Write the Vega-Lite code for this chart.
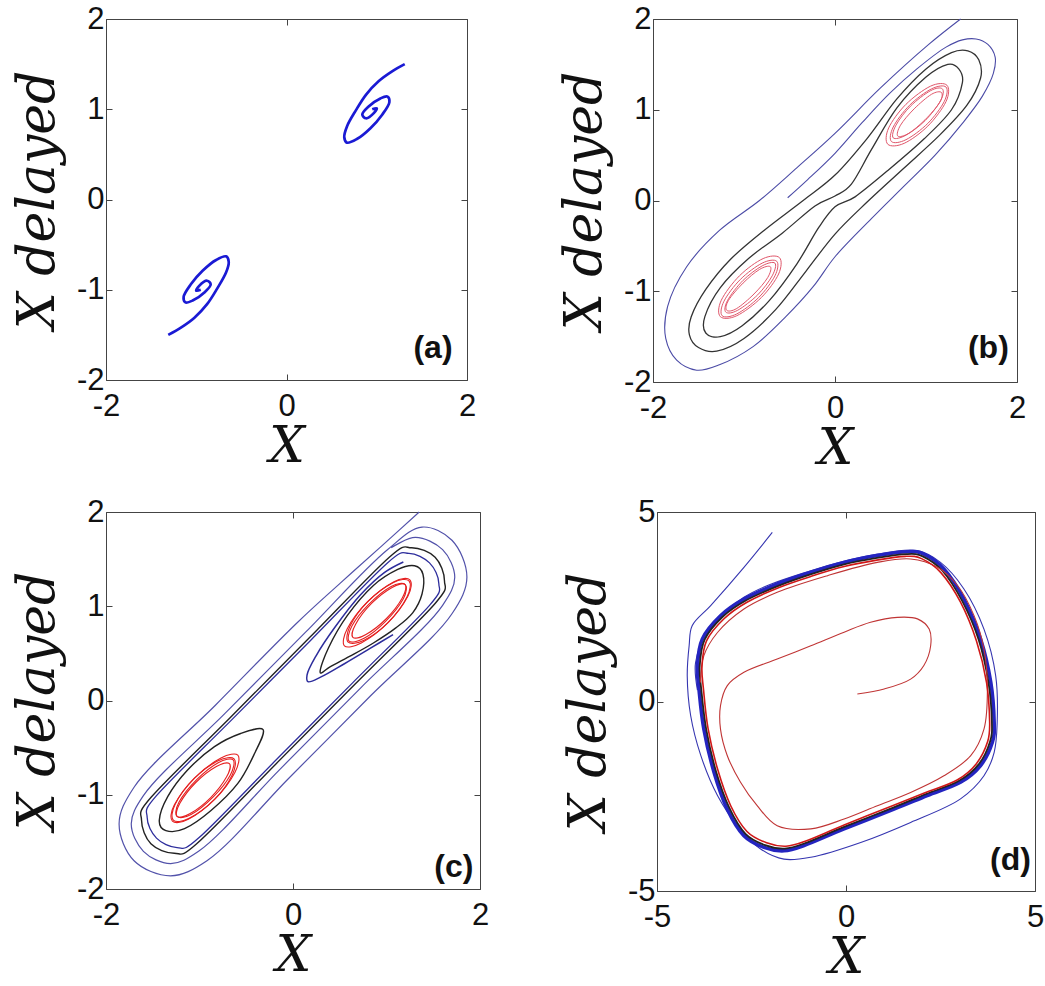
{
"$schema":"https://vega.github.io/schema/vega-lite/v6.json",
"background":"white",
"padding":{"left":10,"top":2,"right":0,"bottom":0},
"config":{
 "view":{"stroke":"#444","strokeWidth":1},
 "axis":{"grid":false,"domain":false,"tickColor":"#444","tickSize":-6,"labelFont":"Liberation Sans","labelFontSize":31,"labelColor":"#111","labelFlush":false,"labelBound":false,"labelOverlap":false,"labelExpr":"'' + datum.value","titleFont":"DejaVu Serif","titleFontStyle":"italic","titleFontWeight":"normal","titleColor":"#111"},
 "axisX":{"titlePadding":0,"labelPadding":17,"titleFontSize":50},
 "axisY":{"titlePadding":12,"labelPadding":8,"titleFontSize":52}
},
"datasets":{
 "labels":[{"p":"a","x":1.84,"y":-1.64,"t":"(a)"},{"p":"b","x":1.91,"y":-1.62,"t":"(b)"},{"p":"c","x":1.93,"y":-1.77,"t":"(c)"},{"p":"d","x":4.89,"y":-4.18,"t":"(d)"}],
 "a":[
{"s":"a1","x":1.31,"y":1.5},{"s":"a1","x":1.17,"y":1.42},{"s":"a1","x":1.02,"y":1.31},{"s":"a1","x":0.88,"y":1.16},{"s":"a1","x":0.77,"y":0.99},{"s":"a1","x":0.67,"y":0.81},{"s":"a1","x":0.64,"y":0.69},{"s":"a1","x":0.67,"y":0.63},{"s":"a1","x":0.78,"y":0.67},{"s":"a1","x":0.93,"y":0.79},{"s":"a1","x":1.06,"y":0.94},{"s":"a1","x":1.14,"y":1.08},{"s":"a1","x":1.12,"y":1.14},{"s":"a1","x":1.04,"y":1.12},{"s":"a1","x":0.91,"y":1.03},{"s":"a1","x":0.84,"y":0.94},{"s":"a1","x":0.88,"y":0.9},{"s":"a1","x":0.97,"y":0.96},{"s":"a1","x":1.0,"y":1.01},{"s":"a1","x":0.95,"y":1.0},
{"s":"a2","x":-1.31,"y":-1.5},{"s":"a2","x":-1.17,"y":-1.42},{"s":"a2","x":-1.02,"y":-1.31},{"s":"a2","x":-0.88,"y":-1.16},{"s":"a2","x":-0.77,"y":-0.99},{"s":"a2","x":-0.67,"y":-0.81},{"s":"a2","x":-0.64,"y":-0.69},{"s":"a2","x":-0.67,"y":-0.63},{"s":"a2","x":-0.78,"y":-0.67},{"s":"a2","x":-0.93,"y":-0.79},{"s":"a2","x":-1.06,"y":-0.94},{"s":"a2","x":-1.14,"y":-1.08},{"s":"a2","x":-1.12,"y":-1.14},{"s":"a2","x":-1.04,"y":-1.12},{"s":"a2","x":-0.91,"y":-1.03},{"s":"a2","x":-0.84,"y":-0.94},{"s":"a2","x":-0.88,"y":-0.9},{"s":"a2","x":-0.97,"y":-0.96},{"s":"a2","x":-1.0,"y":-1.01},{"s":"a2","x":-0.95,"y":-1.0}
 ],
 "b":[
{"s":"bb","x":1.38,"y":2.0},{"s":"bb","x":1.03,"y":1.72},{"s":"bb","x":0.5,"y":1.24},{"s":"bb","x":0.0,"y":0.74},{"s":"bb","x":-0.42,"y":0.36},{"s":"bb","x":-0.83,"y":0.0},{"s":"bb","x":-1.27,"y":-0.33},{"s":"bb","x":-1.63,"y":-0.73},{"s":"bb","x":-1.84,"y":-1.17},{"s":"bb","x":-1.86,"y":-1.52},{"s":"bb","x":-1.74,"y":-1.76},{"s":"bb","x":-1.52,"y":-1.87},{"s":"bb","x":-1.27,"y":-1.81},{"s":"bb","x":-0.9,"y":-1.61},{"s":"bb","x":-0.54,"y":-1.28},{"s":"bb","x":-0.24,"y":-0.95},{"s":"bb","x":0.0,"y":-0.62},{"s":"bb","x":0.4,"y":-0.2},{"s":"bb","x":0.75,"y":0.15},{"s":"bb","x":1.1,"y":0.5},{"s":"bb","x":1.4,"y":0.85},{"s":"bb","x":1.62,"y":1.15},{"s":"bb","x":1.74,"y":1.4},{"s":"bb","x":1.76,"y":1.58},{"s":"bb","x":1.68,"y":1.72},{"s":"bb","x":1.55,"y":1.78},{"s":"bb","x":1.4,"y":1.77},{"s":"bb","x":1.22,"y":1.69},{"s":"bb","x":0.9,"y":1.45},{"s":"bb","x":0.6,"y":1.18},{"s":"bb","x":0.3,"y":0.86},{"s":"bb","x":0.0,"y":0.52},{"s":"bb","x":-0.3,"y":0.23},{"s":"bb","x":-0.52,"y":0.03},
{"s":"bk1","x":1.6,"y":1.35},{"s":"bk1","x":1.58,"y":1.55},{"s":"bk1","x":1.46,"y":1.65},{"s":"bk1","x":1.28,"y":1.63},{"s":"bk1","x":1.0,"y":1.45},{"s":"bk1","x":0.68,"y":1.12},{"s":"bk1","x":0.35,"y":0.68},{"s":"bk1","x":0.0,"y":0.28},{"s":"bk1","x":-0.35,"y":0.0},{"s":"bk1","x":-0.78,"y":-0.33},{"s":"bk1","x":-1.15,"y":-0.65},{"s":"bk1","x":-1.42,"y":-0.98},{"s":"bk1","x":-1.58,"y":-1.28},{"s":"bk1","x":-1.6,"y":-1.48},{"s":"bk1","x":-1.5,"y":-1.62},{"s":"bk1","x":-1.3,"y":-1.66},{"s":"bk1","x":-1.0,"y":-1.52},{"s":"bk1","x":-0.65,"y":-1.2},{"s":"bk1","x":-0.32,"y":-0.78},{"s":"bk1","x":0.0,"y":-0.37},{"s":"bk1","x":0.35,"y":-0.02},{"s":"bk1","x":0.75,"y":0.35},{"s":"bk1","x":1.15,"y":0.72},{"s":"bk1","x":1.45,"y":1.05},
{"s":"bk2","x":1.4,"y":1.3},{"s":"bk2","x":1.36,"y":1.45},{"s":"bk2","x":1.24,"y":1.5},{"s":"bk2","x":1.0,"y":1.36},{"s":"bk2","x":0.68,"y":1.02},{"s":"bk2","x":0.4,"y":0.56},{"s":"bk2","x":0.18,"y":0.18},{"s":"bk2","x":0.0,"y":0.05},{"s":"bk2","x":-0.22,"y":-0.06},{"s":"bk2","x":-0.58,"y":-0.36},{"s":"bk2","x":-0.95,"y":-0.64},{"s":"bk2","x":-1.26,"y":-0.96},{"s":"bk2","x":-1.43,"y":-1.28},{"s":"bk2","x":-1.42,"y":-1.46},{"s":"bk2","x":-1.26,"y":-1.5},{"s":"bk2","x":-1.02,"y":-1.38},{"s":"bk2","x":-0.72,"y":-1.1},{"s":"bk2","x":-0.42,"y":-0.7},{"s":"bk2","x":-0.18,"y":-0.3},{"s":"bk2","x":0.0,"y":-0.07},{"s":"bk2","x":0.22,"y":0.04},{"s":"bk2","x":0.58,"y":0.33},{"s":"bk2","x":0.98,"y":0.68},{"s":"bk2","x":1.28,"y":1.0},
{"s":"br1","x":1.23,"y":1.27},{"s":"br1","x":1.05,"y":1.26},{"s":"br1","x":0.78,"y":1.06},{"s":"br1","x":0.59,"y":0.8},{"s":"br1","x":0.58,"y":0.62},{"s":"br1","x":0.76,"y":0.63},{"s":"br1","x":1.02,"y":0.82},{"s":"br1","x":1.22,"y":1.09},
{"s":"br2","x":1.22,"y":1.25},{"s":"br2","x":1.06,"y":1.23},{"s":"br2","x":0.82,"y":1.05},{"s":"br2","x":0.64,"y":0.81},{"s":"br2","x":0.62,"y":0.65},{"s":"br2","x":0.78,"y":0.67},{"s":"br2","x":1.02,"y":0.85},{"s":"br2","x":1.2,"y":1.09},
{"s":"br3","x":1.18,"y":1.23},{"s":"br3","x":1.05,"y":1.21},{"s":"br3","x":0.83,"y":1.04},{"s":"br3","x":0.67,"y":0.83},{"s":"br3","x":0.64,"y":0.69},{"s":"br3","x":0.78,"y":0.72},{"s":"br3","x":0.99,"y":0.88},{"s":"br3","x":1.16,"y":1.1},
{"s":"br4","x":1.17,"y":1.19},{"s":"br4","x":1.06,"y":1.17},{"s":"br4","x":0.87,"y":1.01},{"s":"br4","x":0.72,"y":0.83},{"s":"br4","x":0.69,"y":0.71},{"s":"br4","x":0.81,"y":0.74},{"s":"br4","x":0.99,"y":0.89},{"s":"br4","x":1.15,"y":1.08},
{"s":"br5","x":-0.61,"y":-0.63},{"s":"br5","x":-0.79,"y":-0.64},{"s":"br5","x":-1.05,"y":-0.83},{"s":"br5","x":-1.25,"y":-1.1},{"s":"br5","x":-1.26,"y":-1.28},{"s":"br5","x":-1.08,"y":-1.27},{"s":"br5","x":-0.81,"y":-1.07},{"s":"br5","x":-0.62,"y":-0.81},
{"s":"br6","x":-0.64,"y":-0.67},{"s":"br6","x":-0.8,"y":-0.69},{"s":"br6","x":-1.04,"y":-0.87},{"s":"br6","x":-1.22,"y":-1.11},{"s":"br6","x":-1.24,"y":-1.27},{"s":"br6","x":-1.08,"y":-1.25},{"s":"br6","x":-0.84,"y":-1.07},{"s":"br6","x":-0.66,"y":-0.83},
{"s":"br7","x":-0.66,"y":-0.69},{"s":"br7","x":-0.8,"y":-0.72},{"s":"br7","x":-1.01,"y":-0.88},{"s":"br7","x":-1.18,"y":-1.1},{"s":"br7","x":-1.2,"y":-1.23},{"s":"br7","x":-1.07,"y":-1.21},{"s":"br7","x":-0.85,"y":-1.04},{"s":"br7","x":-0.69,"y":-0.83},
{"s":"br8","x":-0.71,"y":-0.73},{"s":"br8","x":-0.83,"y":-0.76},{"s":"br8","x":-1.01,"y":-0.91},{"s":"br8","x":-1.17,"y":-1.1},{"s":"br8","x":-1.19,"y":-1.21},{"s":"br8","x":-1.08,"y":-1.19},{"s":"br8","x":-0.89,"y":-1.03},{"s":"br8","x":-0.74,"y":-0.85}
 ],
 "c":[
{"s":"cb1","x":1.35,"y":2.0},{"s":"cb1","x":0.95,"y":1.64},{"s":"cb1","x":0.5,"y":1.24},{"s":"cb1","x":0.05,"y":0.83},{"s":"cb1","x":-0.83,"y":-0.05},{"s":"cb1","x":-1.7,"y":-0.92},{"s":"cb1","x":-1.86,"y":-1.31},{"s":"cb1","x":-1.7,"y":-1.7},{"s":"cb1","x":-1.31,"y":-1.86},{"s":"cb1","x":-0.92,"y":-1.7},{"s":"cb1","x":-0.05,"y":-0.83},{"s":"cb1","x":0.83,"y":0.05},{"s":"cb1","x":1.7,"y":0.92},{"s":"cb1","x":1.86,"y":1.31},{"s":"cb1","x":1.7,"y":1.7},{"s":"cb1","x":1.38,"y":1.84},{"s":"cb1","x":1.01,"y":1.6},{"s":"cb1","x":0.14,"y":0.73},{"s":"cb1","x":-0.73,"y":-0.14},{"s":"cb1","x":-1.6,"y":-1.01},{"s":"cb1","x":-1.73,"y":-1.31},{"s":"cb1","x":-1.6,"y":-1.6},{"s":"cb1","x":-1.31,"y":-1.73},{"s":"cb1","x":-1.01,"y":-1.6},{"s":"cb1","x":-0.14,"y":-0.73},{"s":"cb1","x":0.73,"y":0.14},{"s":"cb1","x":1.6,"y":1.01},{"s":"cb1","x":1.73,"y":1.31},{"s":"cb1","x":1.6,"y":1.6},{"s":"cb1","x":1.31,"y":1.73},{"s":"cb1","x":1.05,"y":1.62},
{"s":"crb","x":1.07,"y":0.7},{"s":"crb","x":0.82,"y":0.55},{"s":"crb","x":0.55,"y":0.39},{"s":"crb","x":0.3,"y":0.25},{"s":"crb","x":0.16,"y":0.2},{"s":"crb","x":0.15,"y":0.27},{"s":"crb","x":0.25,"y":0.48},{"s":"crb","x":0.45,"y":0.78},{"s":"crb","x":0.72,"y":1.12},{"s":"crb","x":0.98,"y":1.36},{"s":"crb","x":1.18,"y":1.47},
{"s":"cb3","x":1.46,"y":1.46},{"s":"cb3","x":1.24,"y":1.56},{"s":"cb3","x":1.01,"y":1.46},{"s":"cb3","x":0.19,"y":0.64},{"s":"cb3","x":-0.64,"y":-0.19},{"s":"cb3","x":-1.46,"y":-1.01},{"s":"cb3","x":-1.56,"y":-1.24},{"s":"cb3","x":-1.46,"y":-1.46},{"s":"cb3","x":-1.24,"y":-1.56},{"s":"cb3","x":-1.01,"y":-1.46},{"s":"cb3","x":-0.19,"y":-0.64},{"s":"cb3","x":0.64,"y":0.19},{"s":"cb3","x":1.46,"y":1.01},{"s":"cb3","x":1.56,"y":1.24},
{"s":"ck","x":1.52,"y":1.52},{"s":"ck","x":1.27,"y":1.62},{"s":"ck","x":1.03,"y":1.52},{"s":"ck","x":0.18,"y":0.67},{"s":"ck","x":-0.67,"y":-0.18},{"s":"ck","x":-1.52,"y":-1.03},{"s":"ck","x":-1.62,"y":-1.27},{"s":"ck","x":-1.52,"y":-1.52},{"s":"ck","x":-1.27,"y":-1.62},{"s":"ck","x":-1.03,"y":-1.52},{"s":"ck","x":-0.18,"y":-0.67},{"s":"ck","x":0.67,"y":0.18},{"s":"ck","x":1.52,"y":1.03},{"s":"ck","x":1.62,"y":1.27},
{"s":"crk","x":0.29,"y":0.3},{"s":"crk","x":0.38,"y":0.56},{"s":"crk","x":0.58,"y":0.9},{"s":"crk","x":0.86,"y":1.22},{"s":"crk","x":1.12,"y":1.39},{"s":"crk","x":1.3,"y":1.43},{"s":"crk","x":1.39,"y":1.34},{"s":"crk","x":1.38,"y":1.13},{"s":"crk","x":1.28,"y":0.93},{"s":"crk","x":1.1,"y":0.77},{"s":"crk","x":0.86,"y":0.61},{"s":"crk","x":0.61,"y":0.47},{"s":"crk","x":0.4,"y":0.36},
{"s":"clk","x":-0.32,"y":-0.31},{"s":"clk","x":-0.56,"y":-0.35},{"s":"clk","x":-0.84,"y":-0.49},{"s":"clk","x":-1.13,"y":-0.74},{"s":"clk","x":-1.34,"y":-1.02},{"s":"clk","x":-1.43,"y":-1.27},{"s":"clk","x":-1.36,"y":-1.38},{"s":"clk","x":-1.16,"y":-1.36},{"s":"clk","x":-0.88,"y":-1.17},{"s":"clk","x":-0.59,"y":-0.88},{"s":"clk","x":-0.41,"y":-0.56},
{"s":"cr1","x":1.25,"y":1.28},{"s":"cr1","x":1.08,"y":1.26},{"s":"cr1","x":0.79,"y":1.04},{"s":"cr1","x":0.58,"y":0.76},{"s":"cr1","x":0.55,"y":0.58},{"s":"cr1","x":0.73,"y":0.61},{"s":"cr1","x":1.01,"y":0.82},{"s":"cr1","x":1.23,"y":1.11},
{"s":"cr2","x":1.24,"y":1.27},{"s":"cr2","x":1.07,"y":1.25},{"s":"cr2","x":0.8,"y":1.05},{"s":"cr2","x":0.61,"y":0.79},{"s":"cr2","x":0.59,"y":0.62},{"s":"cr2","x":0.76,"y":0.64},{"s":"cr2","x":1.02,"y":0.83},{"s":"cr2","x":1.22,"y":1.1},
{"s":"cr3","x":1.2,"y":1.23},{"s":"cr3","x":1.05,"y":1.21},{"s":"cr3","x":0.81,"y":1.02},{"s":"cr3","x":0.63,"y":0.79},{"s":"cr3","x":0.6,"y":0.63},{"s":"cr3","x":0.76,"y":0.66},{"s":"cr3","x":0.99,"y":0.84},{"s":"cr3","x":1.18,"y":1.08},
{"s":"cr4","x":1.2,"y":1.23},{"s":"cr4","x":1.06,"y":1.2},{"s":"cr4","x":0.84,"y":1.03},{"s":"cr4","x":0.67,"y":0.81},{"s":"cr4","x":0.64,"y":0.67},{"s":"cr4","x":0.78,"y":0.7},{"s":"cr4","x":1.0,"y":0.87},{"s":"cr4","x":1.17,"y":1.09},
{"s":"cr5","x":-0.59,"y":-0.58},{"s":"cr5","x":-0.77,"y":-0.61},{"s":"cr5","x":-1.05,"y":-0.82},{"s":"cr5","x":-1.27,"y":-1.11},{"s":"cr5","x":-1.29,"y":-1.28},{"s":"cr5","x":-1.12,"y":-1.26},{"s":"cr5","x":-0.83,"y":-1.04},{"s":"cr5","x":-0.62,"y":-0.76},
{"s":"cr6","x":-0.63,"y":-0.62},{"s":"cr6","x":-0.8,"y":-0.64},{"s":"cr6","x":-1.06,"y":-0.83},{"s":"cr6","x":-1.26,"y":-1.1},{"s":"cr6","x":-1.28,"y":-1.27},{"s":"cr6","x":-1.11,"y":-1.25},{"s":"cr6","x":-0.84,"y":-1.05},{"s":"cr6","x":-0.65,"y":-0.79},
{"s":"cr7","x":-0.64,"y":-0.63},{"s":"cr7","x":-0.8,"y":-0.66},{"s":"cr7","x":-1.03,"y":-0.84},{"s":"cr7","x":-1.22,"y":-1.08},{"s":"cr7","x":-1.24,"y":-1.23},{"s":"cr7","x":-1.09,"y":-1.21},{"s":"cr7","x":-0.85,"y":-1.02},{"s":"cr7","x":-0.67,"y":-0.79},
{"s":"cr8","x":-0.68,"y":-0.67},{"s":"cr8","x":-0.82,"y":-0.7},{"s":"cr8","x":-1.04,"y":-0.87},{"s":"cr8","x":-1.21,"y":-1.09},{"s":"cr8","x":-1.24,"y":-1.23},{"s":"cr8","x":-1.1,"y":-1.2},{"s":"cr8","x":-0.88,"y":-1.03},{"s":"cr8","x":-0.71,"y":-0.81}
 ],
 "d":[
{"s":"dbt","x":-1.95,"y":4.46},{"s":"dbt","x":-2.7,"y":3.54},{"s":"dbt","x":-3.58,"y":2.53},{"s":"dbt","x":-4.07,"y":2.0},{"s":"dbt","x":-4.15,"y":1.47},{"s":"dbt","x":-4.2,"y":0.68},{"s":"dbt","x":-4.11,"y":-0.37},{"s":"dbt","x":-3.84,"y":-1.43},{"s":"dbt","x":-3.4,"y":-2.48},{"s":"dbt","x":-2.87,"y":-3.28},{"s":"dbt","x":-2.26,"y":-3.89},{"s":"dbt","x":-1.64,"y":-4.16},{"s":"dbt","x":-0.93,"y":-4.11},{"s":"dbt","x":0.39,"y":-3.72},{"s":"dbt","x":1.71,"y":-3.19},{"s":"dbt","x":3.03,"y":-2.57},{"s":"dbt","x":3.65,"y":-1.96},{"s":"dbt","x":3.92,"y":-1.34},{"s":"dbt","x":4.0,"y":-0.55},{"s":"dbt","x":3.96,"y":0.68},{"s":"dbt","x":3.65,"y":1.91},{"s":"dbt","x":3.12,"y":2.97},{"s":"dbt","x":2.5,"y":3.67},{"s":"dbt","x":1.89,"y":3.98},{"s":"dbt","x":0.83,"y":3.89},{"s":"dbt","x":-0.93,"y":3.45},{"s":"dbt","x":-2.7,"y":2.75},{"s":"dbt","x":-3.67,"y":1.82},{"s":"dbt","x":-3.98,"y":1.03},{"s":"dbt","x":-3.93,"y":0.3},
{"s":"dcb","x":-3.8,"y":1.65},{"s":"dcb","x":-3.32,"y":2.26},{"s":"dcb","x":-2.7,"y":2.7},{"s":"dcb","x":-1.82,"y":3.1},{"s":"dcb","x":-0.93,"y":3.41},{"s":"dcb","x":-0.05,"y":3.67},{"s":"dcb","x":0.83,"y":3.85},{"s":"dcb","x":1.62,"y":3.95},{"s":"dcb","x":2.06,"y":3.89},{"s":"dcb","x":2.59,"y":3.5},{"s":"dcb","x":3.12,"y":2.7},{"s":"dcb","x":3.56,"y":1.65},{"s":"dcb","x":3.83,"y":0.51},{"s":"dcb","x":3.92,"y":-0.55},{"s":"dcb","x":3.87,"y":-1.08},{"s":"dcb","x":3.56,"y":-1.69},{"s":"dcb","x":3.03,"y":-2.13},{"s":"dcb","x":2.15,"y":-2.48},{"s":"dcb","x":1.27,"y":-2.84},{"s":"dcb","x":-0.05,"y":-3.36},{"s":"dcb","x":-1.11,"y":-3.8},{"s":"dcb","x":-1.64,"y":-3.94},{"s":"dcb","x":-2.17,"y":-3.85},{"s":"dcb","x":-2.7,"y":-3.54},{"s":"dcb","x":-3.14,"y":-2.84},{"s":"dcb","x":-3.49,"y":-1.87},{"s":"dcb","x":-3.76,"y":-0.73},{"s":"dcb","x":-3.89,"y":0.33},{"s":"dcb","x":-3.93,"y":0.95},
{"s":"dck","x":-3.74,"y":1.63},{"s":"dck","x":-3.27,"y":2.23},{"s":"dck","x":-2.66,"y":2.66},{"s":"dck","x":-1.79,"y":3.05},{"s":"dck","x":-0.92,"y":3.36},{"s":"dck","x":-0.05,"y":3.62},{"s":"dck","x":0.82,"y":3.79},{"s":"dck","x":1.6,"y":3.89},{"s":"dck","x":2.03,"y":3.83},{"s":"dck","x":2.55,"y":3.45},{"s":"dck","x":3.07,"y":2.66},{"s":"dck","x":3.51,"y":1.63},{"s":"dck","x":3.77,"y":0.5},{"s":"dck","x":3.86,"y":-0.54},{"s":"dck","x":3.81,"y":-1.06},{"s":"dck","x":3.51,"y":-1.66},{"s":"dck","x":2.98,"y":-2.1},{"s":"dck","x":2.12,"y":-2.44},{"s":"dck","x":1.25,"y":-2.8},{"s":"dck","x":-0.05,"y":-3.31},{"s":"dck","x":-1.09,"y":-3.74},{"s":"dck","x":-1.62,"y":-3.88},{"s":"dck","x":-2.14,"y":-3.79},{"s":"dck","x":-2.66,"y":-3.49},{"s":"dck","x":-3.09,"y":-2.8},{"s":"dck","x":-3.44,"y":-1.84},{"s":"dck","x":-3.7,"y":-0.72},{"s":"dck","x":-3.83,"y":0.33},{"s":"dck","x":-3.87,"y":0.94},
{"s":"dcr","x":-3.69,"y":1.6},{"s":"dcr","x":-3.22,"y":2.19},{"s":"dcr","x":-2.62,"y":2.62},{"s":"dcr","x":-1.77,"y":3.01},{"s":"dcr","x":-0.9,"y":3.31},{"s":"dcr","x":-0.05,"y":3.56},{"s":"dcr","x":0.81,"y":3.73},{"s":"dcr","x":1.57,"y":3.83},{"s":"dcr","x":2.0,"y":3.77},{"s":"dcr","x":2.51,"y":3.4},{"s":"dcr","x":3.03,"y":2.62},{"s":"dcr","x":3.45,"y":1.6},{"s":"dcr","x":3.72,"y":0.49},{"s":"dcr","x":3.8,"y":-0.53},{"s":"dcr","x":3.75,"y":-1.05},{"s":"dcr","x":3.45,"y":-1.64},{"s":"dcr","x":2.94,"y":-2.07},{"s":"dcr","x":2.09,"y":-2.41},{"s":"dcr","x":1.23,"y":-2.75},{"s":"dcr","x":-0.05,"y":-3.26},{"s":"dcr","x":-1.08,"y":-3.69},{"s":"dcr","x":-1.59,"y":-3.82},{"s":"dcr","x":-2.1,"y":-3.73},{"s":"dcr","x":-2.62,"y":-3.43},{"s":"dcr","x":-3.05,"y":-2.75},{"s":"dcr","x":-3.39,"y":-1.81},{"s":"dcr","x":-3.65,"y":-0.71},{"s":"dcr","x":-3.77,"y":0.32},{"s":"dcr","x":-3.81,"y":0.92},
{"s":"drs","x":0.3,"y":0.2},{"s":"drs","x":1.01,"y":0.33},{"s":"drs","x":1.71,"y":0.59},{"s":"drs","x":2.06,"y":0.95},{"s":"drs","x":2.24,"y":1.47},{"s":"drs","x":2.2,"y":1.91},{"s":"drs","x":1.89,"y":2.18},{"s":"drs","x":1.36,"y":2.22},{"s":"drs","x":0.65,"y":2.09},{"s":"drs","x":-0.05,"y":1.83},{"s":"drs","x":-0.93,"y":1.47},{"s":"drs","x":-1.82,"y":1.12},{"s":"drs","x":-2.7,"y":0.77},{"s":"drs","x":-3.14,"y":0.42},{"s":"drs","x":-3.32,"y":-0.11},{"s":"drs","x":-3.32,"y":-0.73},{"s":"drs","x":-3.14,"y":-1.43},{"s":"drs","x":-2.79,"y":-2.13},{"s":"drs","x":-2.35,"y":-2.75},{"s":"drs","x":-1.82,"y":-3.28},{"s":"drs","x":-0.93,"y":-3.36},{"s":"drs","x":-0.05,"y":-3.1},{"s":"drs","x":0.83,"y":-2.75},{"s":"drs","x":1.71,"y":-2.4},{"s":"drs","x":2.59,"y":-1.96},{"s":"drs","x":3.3,"y":-1.43},{"s":"drs","x":3.65,"y":-0.73},{"s":"drs","x":3.74,"y":0.33},{"s":"drs","x":3.65,"y":1.39},{"s":"drs","x":3.39,"y":2.26},{"s":"drs","x":2.95,"y":3.06},{"s":"drs","x":2.42,"y":3.54},{"s":"drs","x":1.71,"y":3.76},{"s":"drs","x":0.83,"y":3.67},{"s":"drs","x":-0.49,"y":3.32},{"s":"drs","x":-1.82,"y":2.88},{"s":"drs","x":-2.7,"y":2.44},{"s":"drs","x":-3.4,"y":1.82},{"s":"drs","x":-3.76,"y":1.21},{"s":"drs","x":-3.85,"y":0.5}
 ]
},
"spacing":21,
"vconcat":[
 {"hconcat":[
  {"width":361,"height":361,"data":{"name":"a"},
   "resolve":{"axis":{"x":"independent","y":"independent"}},
   "layer":[
    {"mark":{"type":"line","color":"#1a1ad4","strokeWidth":2.7,"interpolate":"catmull-rom"},
     "encoding":{"x":{"field":"x","type":"quantitative","scale":{"domain":[-2,2],"nice":false,"zero":false},"axis":{"values":[-2,0,2],"title":"X"}},
      "y":{"field":"y","type":"quantitative","scale":{"domain":[-2,2],"nice":false,"zero":false},"axis":{"values":[-2,-1,0,1,2],"title":"X delayed"}},
      "detail":{"field":"s"},"order":{"value":null}}},
    {"data":{"name":"labels"},"transform":[{"filter":"datum.p == 'a'"}],
     "mark":{"type":"text","font":"Liberation Sans","fontWeight":"bold","fontSize":32,"align":"right","baseline":"middle","color":"#111"},
     "encoding":{"x":{"field":"x","type":"quantitative","scale":{"domain":[-2,2],"nice":false,"zero":false},"axis":{"orient":"top","values":[-2,0,2],"labels":false,"title":null}},
      "y":{"field":"y","type":"quantitative","scale":{"domain":[-2,2],"nice":false,"zero":false},"axis":{"orient":"right","values":[-2,-1,0,1,2],"labels":false,"title":null}},
      "text":{"field":"t"}}}
   ]},
  {"width":364,"height":363,"data":{"name":"b"},
   "resolve":{"axis":{"x":"independent","y":"independent"}},
   "layer":[
    {"transform":[{"filter":{"field":"s","oneOf":["bb"]}}],
     "mark":{"type":"line","color":"#4b4ba6","strokeWidth":1.1,"interpolate":"catmull-rom"},
     "encoding":{"x":{"field":"x","type":"quantitative","scale":{"domain":[-2,2],"nice":false,"zero":false},"axis":{"values":[-2,0,2],"title":"X"}},
      "y":{"field":"y","type":"quantitative","scale":{"domain":[-2,2],"nice":false,"zero":false},"axis":{"values":[-2,-1,0,1,2],"title":"X delayed"}},
      "detail":{"field":"s"},"order":{"value":null}}},
    {"transform":[{"filter":{"field":"s","oneOf":["bk1","bk2"]}}],
     "mark":{"type":"line","color":"#333333","strokeWidth":1.3,"interpolate":"cardinal-closed"},
     "encoding":{"x":{"field":"x","type":"quantitative","scale":{"domain":[-2,2],"nice":false,"zero":false},"axis":null},
      "y":{"field":"y","type":"quantitative","scale":{"domain":[-2,2],"nice":false,"zero":false},"axis":null},
      "detail":{"field":"s"},"order":{"value":null}}},
    {"transform":[{"filter":{"field":"s","oneOf":["br1","br2","br3","br4","br5","br6","br7","br8"]}}],
     "mark":{"type":"line","color":"#e0566a","strokeWidth":1.0,"interpolate":"cardinal-closed"},
     "encoding":{"x":{"field":"x","type":"quantitative","scale":{"domain":[-2,2],"nice":false,"zero":false},"axis":null},
      "y":{"field":"y","type":"quantitative","scale":{"domain":[-2,2],"nice":false,"zero":false},"axis":null},
      "detail":{"field":"s"},"order":{"value":null}}},
    {"data":{"name":"labels"},"transform":[{"filter":"datum.p == 'b'"}],
     "mark":{"type":"text","font":"Liberation Sans","fontWeight":"bold","fontSize":32,"align":"right","baseline":"middle","color":"#111"},
     "encoding":{"x":{"field":"x","type":"quantitative","scale":{"domain":[-2,2],"nice":false,"zero":false},"axis":{"orient":"top","values":[-2,0,2],"labels":false,"title":null}},
      "y":{"field":"y","type":"quantitative","scale":{"domain":[-2,2],"nice":false,"zero":false},"axis":{"orient":"right","values":[-2,-1,0,1,2],"labels":false,"title":null}},
      "text":{"field":"t"}}}
   ]}
 ],"spacing":80},
 {"hconcat":[
  {"width":374,"height":377,"data":{"name":"c"},
   "resolve":{"axis":{"x":"independent","y":"independent"}},
   "layer":[
    {"transform":[{"filter":{"field":"s","oneOf":["cb1"]}}],
     "mark":{"type":"line","color":"#5252aa","strokeWidth":1.2,"interpolate":"catmull-rom"},
     "encoding":{"x":{"field":"x","type":"quantitative","scale":{"domain":[-2,2],"nice":false,"zero":false},"axis":{"values":[-2,0,2],"title":"X"}},
      "y":{"field":"y","type":"quantitative","scale":{"domain":[-2,2],"nice":false,"zero":false},"axis":{"values":[-2,-1,0,1,2],"title":"X delayed"}},
      "detail":{"field":"s"},"order":{"value":null}}},
    {"transform":[{"filter":{"field":"s","oneOf":["crb"]}}],
     "mark":{"type":"line","color":"#2d2d9c","strokeWidth":1.5,"interpolate":"catmull-rom"},
     "encoding":{"x":{"field":"x","type":"quantitative","scale":{"domain":[-2,2],"nice":false,"zero":false},"axis":null},
      "y":{"field":"y","type":"quantitative","scale":{"domain":[-2,2],"nice":false,"zero":false},"axis":null},
      "detail":{"field":"s"},"order":{"value":null}}},
    {"transform":[{"filter":{"field":"s","oneOf":["cb3"]}}],
     "mark":{"type":"line","color":"#2d2d9c","strokeWidth":1.3,"interpolate":"cardinal-closed"},
     "encoding":{"x":{"field":"x","type":"quantitative","scale":{"domain":[-2,2],"nice":false,"zero":false},"axis":null},
      "y":{"field":"y","type":"quantitative","scale":{"domain":[-2,2],"nice":false,"zero":false},"axis":null},
      "detail":{"field":"s"},"order":{"value":null}}},
    {"transform":[{"filter":{"field":"s","oneOf":["ck","crk","clk"]}}],
     "mark":{"type":"line","color":"#222222","strokeWidth":1.4,"interpolate":"cardinal-closed"},
     "encoding":{"x":{"field":"x","type":"quantitative","scale":{"domain":[-2,2],"nice":false,"zero":false},"axis":null},
      "y":{"field":"y","type":"quantitative","scale":{"domain":[-2,2],"nice":false,"zero":false},"axis":null},
      "detail":{"field":"s"},"order":{"value":null}}},
    {"transform":[{"filter":{"field":"s","oneOf":["cr1","cr2","cr3","cr4","cr5","cr6","cr7","cr8"]}}],
     "mark":{"type":"line","color":"#e52020","strokeWidth":1.1,"interpolate":"cardinal-closed"},
     "encoding":{"x":{"field":"x","type":"quantitative","scale":{"domain":[-2,2],"nice":false,"zero":false},"axis":null},
      "y":{"field":"y","type":"quantitative","scale":{"domain":[-2,2],"nice":false,"zero":false},"axis":null},
      "detail":{"field":"s"},"order":{"value":null}}},
    {"data":{"name":"labels"},"transform":[{"filter":"datum.p == 'c'"}],
     "mark":{"type":"text","font":"Liberation Sans","fontWeight":"bold","fontSize":32,"align":"right","baseline":"middle","color":"#111"},
     "encoding":{"x":{"field":"x","type":"quantitative","scale":{"domain":[-2,2],"nice":false,"zero":false},"axis":{"orient":"top","values":[-2,0,2],"labels":false,"title":null}},
      "y":{"field":"y","type":"quantitative","scale":{"domain":[-2,2],"nice":false,"zero":false},"axis":{"orient":"right","values":[-2,-1,0,1,2],"labels":false,"title":null}},
      "text":{"field":"t"}}}
   ]},
  {"width":378,"height":379,"data":{"name":"d"},
   "resolve":{"axis":{"x":"independent","y":"independent"}},
   "layer":[
    {"transform":[{"filter":{"field":"s","oneOf":["dbt"]}}],
     "mark":{"type":"line","color":"#3535b0","strokeWidth":1.1,"interpolate":"catmull-rom"},
     "encoding":{"x":{"field":"x","type":"quantitative","scale":{"domain":[-5,5],"nice":false,"zero":false},"axis":{"values":[-5,0,5],"title":"X"}},
      "y":{"field":"y","type":"quantitative","scale":{"domain":[-5,5],"nice":false,"zero":false},"axis":{"values":[-5,0,5],"title":"X delayed"}},
      "detail":{"field":"s"},"order":{"value":null}}},
    {"transform":[{"filter":{"field":"s","oneOf":["dcb"]}}],
     "mark":{"type":"line","color":"#2424c0","strokeWidth":3.6,"interpolate":"cardinal-closed"},
     "encoding":{"x":{"field":"x","type":"quantitative","scale":{"domain":[-5,5],"nice":false,"zero":false},"axis":null},
      "y":{"field":"y","type":"quantitative","scale":{"domain":[-5,5],"nice":false,"zero":false},"axis":null},
      "detail":{"field":"s"},"order":{"value":null}}},
    {"transform":[{"filter":{"field":"s","oneOf":["dck"]}}],
     "mark":{"type":"line","color":"#222222","strokeWidth":1.8,"interpolate":"cardinal-closed"},
     "encoding":{"x":{"field":"x","type":"quantitative","scale":{"domain":[-5,5],"nice":false,"zero":false},"axis":null},
      "y":{"field":"y","type":"quantitative","scale":{"domain":[-5,5],"nice":false,"zero":false},"axis":null},
      "detail":{"field":"s"},"order":{"value":null}}},
    {"transform":[{"filter":{"field":"s","oneOf":["drs"]}}],
     "mark":{"type":"line","color":"#c03535","strokeWidth":1.1,"interpolate":"catmull-rom"},
     "encoding":{"x":{"field":"x","type":"quantitative","scale":{"domain":[-5,5],"nice":false,"zero":false},"axis":null},
      "y":{"field":"y","type":"quantitative","scale":{"domain":[-5,5],"nice":false,"zero":false},"axis":null},
      "detail":{"field":"s"},"order":{"value":null}}},
    {"transform":[{"filter":{"field":"s","oneOf":["dcr"]}}],
     "mark":{"type":"line","color":"#d01818","strokeWidth":1.6,"interpolate":"cardinal-closed"},
     "encoding":{"x":{"field":"x","type":"quantitative","scale":{"domain":[-5,5],"nice":false,"zero":false},"axis":null},
      "y":{"field":"y","type":"quantitative","scale":{"domain":[-5,5],"nice":false,"zero":false},"axis":null},
      "detail":{"field":"s"},"order":{"value":null}}},
    {"data":{"name":"labels"},"transform":[{"filter":"datum.p == 'd'"}],
     "mark":{"type":"text","font":"Liberation Sans","fontWeight":"bold","fontSize":32,"align":"right","baseline":"middle","color":"#111"},
     "encoding":{"x":{"field":"x","type":"quantitative","scale":{"domain":[-5,5],"nice":false,"zero":false},"axis":{"orient":"top","values":[-5,0,5],"labels":false,"title":null}},
      "y":{"field":"y","type":"quantitative","scale":{"domain":[-5,5],"nice":false,"zero":false},"axis":{"orient":"right","values":[-5,0,5],"labels":false,"title":null}},
      "text":{"field":"t"}}}
   ]}
 ],"spacing":71}
]
}
